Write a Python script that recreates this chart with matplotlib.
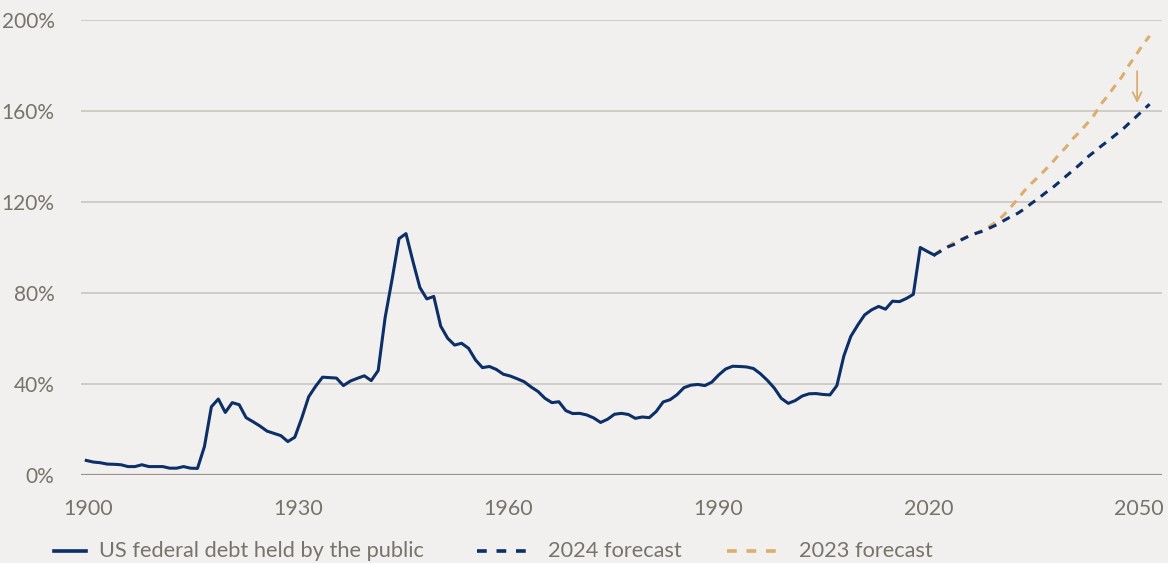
import matplotlib
matplotlib.use("Agg")
import matplotlib.pyplot as plt
from matplotlib.lines import Line2D

# ---- data ----
hist_years = list(range(1900, 2023))
hist_debt = [
    6.4, 5.7, 5.4, 4.8, 4.7, 4.5, 3.7, 3.7, 4.5, 3.7,
    3.7, 3.7, 3.0, 3.0, 3.7, 3.0, 2.9, 12.5, 30.0, 33.4,
    27.5, 31.8, 30.9, 25.2, 23.4, 21.5, 19.3, 18.3, 17.3, 14.7,
    16.6, 25.0, 34.4, 39.0, 43.0, 42.8, 42.6, 39.3, 41.3, 42.5,
    43.6, 41.5, 45.9, 69.2, 86.0, 103.9, 106.1, 93.9, 82.4, 77.4,
    78.5, 65.4, 60.1, 57.1, 57.9, 55.7, 50.6, 47.2, 47.7, 46.4,
    44.3, 43.5, 42.3, 41.0, 38.7, 36.7, 33.7, 31.8, 32.2, 28.3,
    27.0, 27.1, 26.4, 25.1, 23.1, 24.5, 26.7, 27.1, 26.6, 24.9,
    25.5, 25.2, 27.9, 32.1, 33.1, 35.3, 38.4, 39.5, 39.8, 39.3,
    40.8, 44.0, 46.6, 47.8, 47.7, 47.5, 46.8, 44.5, 41.6, 38.2,
    33.7, 31.5, 32.7, 34.7, 35.7, 35.8, 35.4, 35.2, 39.3, 52.3,
    60.9, 65.9, 70.4, 72.6, 74.1, 72.9, 76.4, 76.2, 77.6, 79.4,
    100.0, 98.3, 96.7,
]
fc_years = list(range(2022, 2054))
fc_2024 = [
    96.7, 98.5, 100.3, 101.5, 103.5, 105.0, 106.2, 107.2, 108.6, 110.0,
    111.8, 113.5, 115.0, 117.0, 119.4, 121.6, 124.0, 126.2, 128.8, 131.4,
    134.0, 136.6, 139.6, 142.0, 144.5, 146.8, 149.3, 151.6, 154.5, 157.3,
    160.2, 163.0,
]
fc_2023 = [
    96.7, 99.0, 100.5, 102.5, 103.8, 105.0, 106.3, 107.6, 109.3, 111.5,
    114.2, 117.7, 121.2, 125.0, 128.2, 131.1, 134.2, 137.4, 141.0, 144.2,
    148.0, 151.0, 154.5, 158.2, 163.0, 166.8, 171.0, 175.0, 180.0, 184.5,
    189.0, 193.0,
]
tick_years = [1900, 1930, 1960, 1990, 2020, 2050]
y_ticks = [0, 40, 80, 120, 160, 200]
legend_labels = ["US federal debt held by the public", "2024 forecast", "2023 forecast"]

# ---- style ----
BG = "#f2f0ee"
NAVY = "#0b2f66"
GOLD = "#d9ae6e"
GRID = "#cac7c2"
AXIS = "#97938d"
TXT = "#77736d"
FONT = ["Lato", "DejaVu Sans"]

plt.rcParams["font.family"] = FONT

fig = plt.figure(figsize=(11.68, 5.63), dpi=100, facecolor=BG)
ax = fig.add_axes([81 / 1168, 88 / 563, (1162 - 81) / 1168, 455 / 563])
ax.set_facecolor(BG)

for v in y_ticks[1:]:
    ax.axhline(v, color=GRID, lw=1.2, zorder=1)
ax.axhline(0, color=AXIS, lw=1.6, zorder=1)

dash = (2.7, 2.3)
ax.plot(fc_years, fc_2023, color=GOLD, lw=2.2, dashes=dash, dash_capstyle="butt", zorder=2)
ax.plot(fc_years, fc_2024, color=NAVY, lw=2.2, dashes=dash, dash_capstyle="butt", zorder=3)
ax.plot(hist_years, hist_debt, color=NAVY, lw=2.2, solid_joinstyle="round", zorder=4)

ax.annotate("", xy=(2051.2, 163.5), xytext=(2051.2, 177.5),
            arrowprops=dict(arrowstyle="->", color=GOLD, lw=1.3, mutation_scale=16,
                            shrinkA=0, shrinkB=0), zorder=5)

ax.set_xlim(1899.24, 2054.78)
ax.set_ylim(0, 200)
for s in ax.spines.values():
    s.set_visible(False)

# label positions are slightly offset from the data scale in the original
ax.set_xticks([1900.25 + (t - 1900) * 1.0082 for t in tick_years])
ax.set_xticklabels([str(t) for t in tick_years])
ax.set_yticks(y_ticks)
ax.set_yticklabels([f"{v}%" for v in y_ticks])
ax.tick_params(axis="both", length=0, labelcolor=TXT)
ax.tick_params(axis="x", pad=17, labelsize=15.5)
ax.tick_params(axis="y", pad=19, labelsize=15)

# legend
ly = 1 - 551 / 563
fig.add_artist(Line2D([54 / 1168, 86 / 1168], [ly, ly], color=NAVY, lw=2.6,
                      transform=fig.transFigure))
fig.add_artist(Line2D([477 / 1168, 531 / 1168], [ly, ly], color=NAVY, lw=2.6,
                      dashes=(2.7, 2.7), transform=fig.transFigure))
fig.add_artist(Line2D([727 / 1168, 782 / 1168], [ly, ly], color=GOLD, lw=2.6,
                      dashes=(2.7, 2.7), transform=fig.transFigure))
for x, t in zip([99, 548, 799], legend_labels):
    fig.text(x / 1168, ly, t, ha="left", va="center", fontsize=15.7, color=TXT)

fig.savefig("out.png", dpi=100, facecolor=BG)
